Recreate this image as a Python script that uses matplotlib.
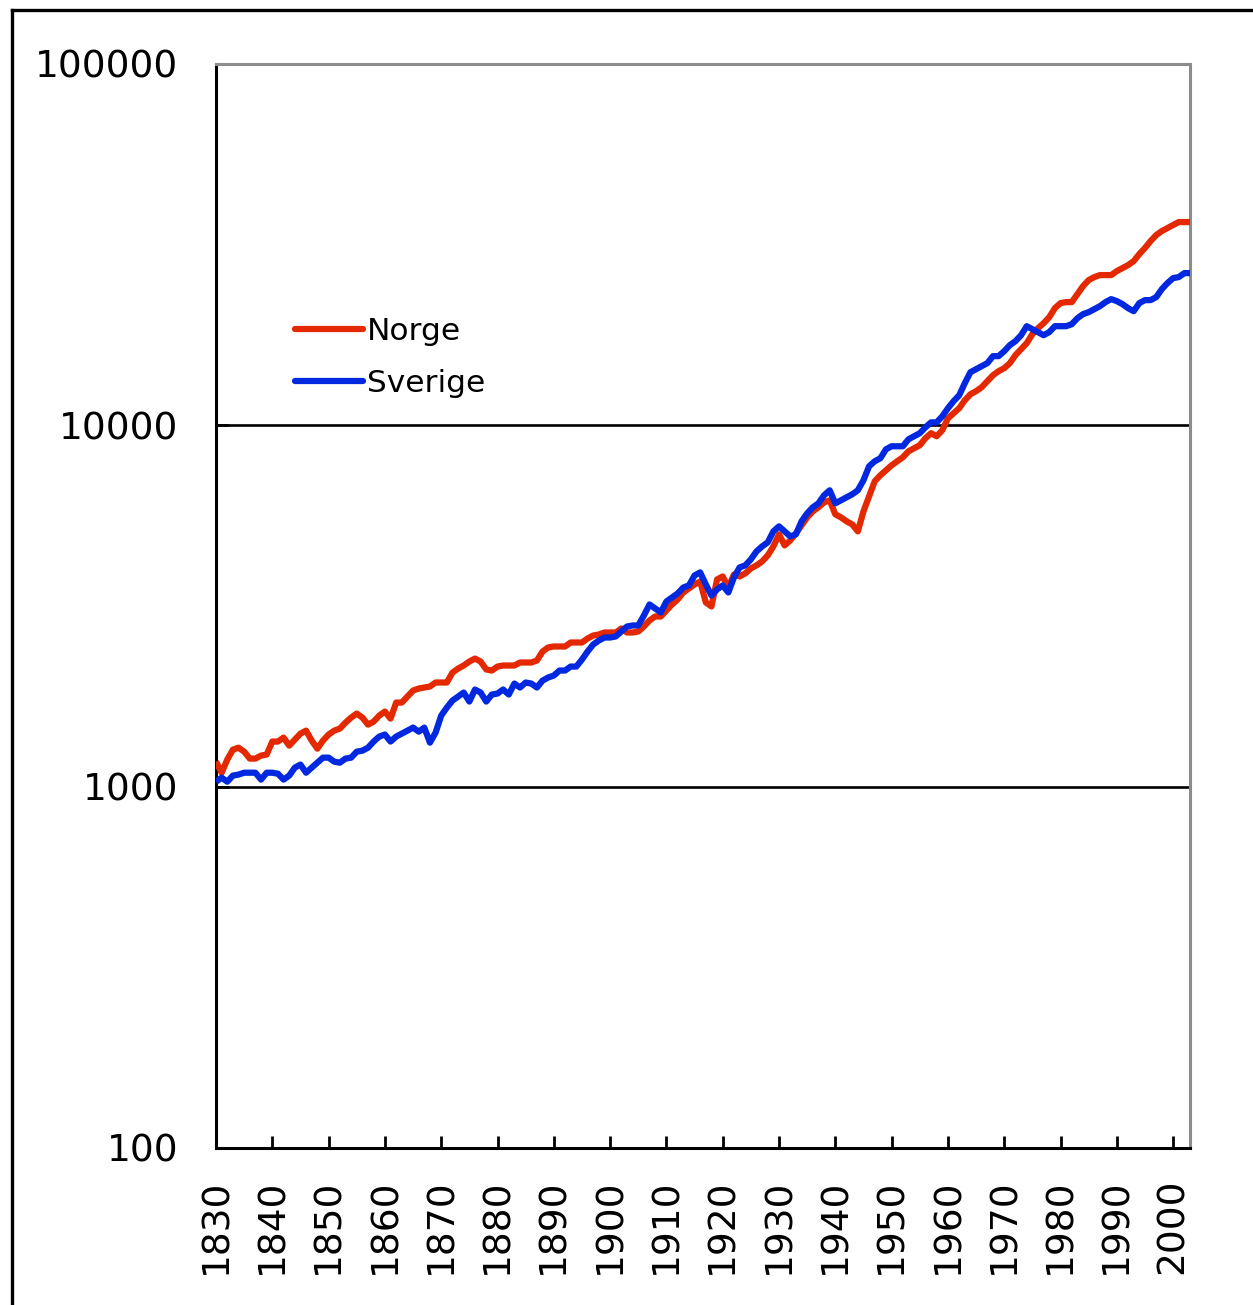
import matplotlib
matplotlib.use("Agg")
import matplotlib.pyplot as plt
from matplotlib.lines import Line2D
import numpy as np

years = list(range(1830, 2004))

norge = [
    1173, 1093, 1188, 1266, 1282, 1250, 1196, 1196, 1219, 1227,   # 1830-1839
    1333, 1333, 1367, 1299, 1350, 1402, 1429, 1341, 1274, 1341,   # 1840-1849
    1394, 1429, 1448, 1504, 1553, 1593, 1553, 1485, 1514, 1573,   # 1850-1859
    1614, 1543, 1709, 1709, 1776, 1845, 1869, 1881, 1893, 1942,   # 1860-1869
    1942, 1942, 2069, 2123, 2164, 2220, 2262, 2220, 2110, 2096,   # 1870-1879
    2150, 2164, 2164, 2164, 2206, 2206, 2206, 2234, 2366, 2428,   # 1880-1889
    2443, 2443, 2443, 2506, 2506, 2506, 2571, 2620, 2637, 2671,   # 1890-1899
    2671, 2671, 2740, 2671, 2671, 2688, 2775, 2884, 2958, 2958,   # 1900-1909
    3074, 3193, 3297, 3447, 3536, 3628, 3698, 3235, 3153, 3745,   # 1910-1919
    3818, 3558, 3867, 3818, 3892, 4018, 4096, 4201, 4366, 4623,   # 1920-1929
    4991, 4653, 4804, 5023, 5286, 5563, 5780, 5930, 6122, 6200,   # 1930-1939
    5671, 5563, 5423, 5320, 5088, 5780, 6361, 7000, 7273, 7509,   # 1940-1949
    7752, 7953, 8158, 8477, 8640, 8807, 9210, 9510, 9328, 9690,   # 1950-1959
    10450, 10800, 11150, 11730, 12190, 12430, 12750, 13250, 13760, 14120,  # 1960-1969
    14390, 14860, 15640, 16250, 16880, 17880, 18570, 19170, 19920, 21100,  # 1970-1979
    21790, 21930, 21930, 23070, 24280, 25230, 25720, 26050, 26050, 26050,  # 1980-1989
    26720, 27240, 27760, 28480, 29790, 30960, 32360, 33620, 34490, 35150,  # 1990-1999
    35830, 36520, 36520, 36520,                                            # 2000-2003
]

sverige = [
    1032, 1059, 1032, 1073, 1080, 1093, 1093, 1093, 1046, 1093,   # 1830-1839
    1093, 1086, 1046, 1073, 1129, 1151, 1093, 1129, 1165, 1203,   # 1840-1849
    1203, 1173, 1165, 1196, 1203, 1250, 1258, 1282, 1333, 1376,   # 1850-1859
    1394, 1333, 1376, 1402, 1429, 1457, 1420, 1457, 1324, 1411,   # 1860-1869
    1573, 1655, 1731, 1776, 1822, 1720, 1857, 1822, 1720, 1799,   # 1870-1879
    1810, 1857, 1799, 1929, 1881, 1942, 1929, 1881, 1966, 2005,   # 1880-1889
    2030, 2096, 2096, 2150, 2150, 2248, 2366, 2475, 2538, 2587,   # 1890-1899
    2587, 2604, 2688, 2775, 2793, 2793, 2977, 3193, 3113, 3035,   # 1900-1909
    3255, 3339, 3426, 3558, 3605, 3842, 3917, 3628, 3382, 3514,   # 1910-1919
    3605, 3447, 3794, 4044, 4096, 4257, 4478, 4623, 4743, 5088,   # 1920-1929
    5253, 5088, 4928, 4991, 5423, 5707, 5930, 6083, 6402, 6610,   # 1930-1939
    6083, 6200, 6320, 6443, 6610, 7045, 7703, 7953, 8106, 8585,   # 1940-1949
    8751, 8751, 8751, 9150, 9328, 9510, 9870, 10190, 10190, 10590,  # 1950-1959
    11150, 11660, 12110, 13080, 14030, 14300, 14580, 14860, 15540, 15540,  # 1960-1969
    16040, 16670, 17100, 17760, 18810, 18450, 18110, 17760, 18110, 18810,  # 1970-1979
    18810, 18810, 19050, 19790, 20310, 20570, 20960, 21370, 21930, 22350,  # 1980-1989
    22070, 21650, 21100, 20700, 21790, 22210, 22210, 22640, 23820, 24760,  # 1990-1999
    25550, 25720, 26380, 26380,                                            # 2000-2003
]

series_names = ["Norge", "Sverige"]
y_ticks = [100, 1000, 10000, 100000]
y_tick_labels = ["100", "1000", "10000", "100000"]
x_ticks = list(range(1830, 2001, 10))
x_tick_labels = [str(y) for y in x_ticks]

RED = "#E42800"
BLUE = "#0028E0"

W, H = 1253, 1305
fig = plt.figure(figsize=(W / 100, H / 100), dpi=100)
ax = fig.add_axes([216 / W, 1 - 1148 / H, (1190 - 216) / W, (1148 - 64) / H])

ax.set_yscale("log")
ax.set_ylim(100, 100000)
ax.set_xlim(1830, 2003)

for yv in [1000, 10000]:
    ax.axhline(yv, color="black", lw=1.9, zorder=1)

ax.plot(years, norge, color=RED, lw=4.5, solid_capstyle="butt", zorder=3)
ax.plot(years, sverige, color=BLUE, lw=4.5, solid_capstyle="butt", zorder=3)

ax.set_yticks(y_ticks)
ax.set_yticklabels(y_tick_labels)
ax.yaxis.set_minor_locator(matplotlib.ticker.NullLocator())
ax.set_xticks(x_ticks)
ax.set_xticklabels(x_tick_labels, rotation=90)

ax.tick_params(axis="y", direction="in", length=9, width=2, pad=27,
               labelsize=27, color="black")
ax.tick_params(axis="x", direction="in", length=9, width=2, pad=22,
               labelsize=27, color="black")

for s in ["left", "bottom"]:
    ax.spines[s].set_color("black")
    ax.spines[s].set_linewidth(2.2)
for s in ["top", "right"]:
    ax.spines[s].set_color("#8c8c8c")
    ax.spines[s].set_linewidth(2.2)

handles = [Line2D([], [], color=RED, lw=4.5, solid_capstyle="round"),
           Line2D([], [], color=BLUE, lw=4.5, solid_capstyle="round")]
leg = ax.legend(handles, series_names, loc="upper left",
                bbox_to_anchor=((286 - 216) / (1190 - 216), 1 - (308 - 64) / (1148 - 64)),
                frameon=False, fontsize=22.5, handlelength=2.15, handletextpad=0.15,
                labelspacing=0.72, borderaxespad=0, borderpad=0.3)

# outer frame lines (left and top)
fig.add_artist(Line2D([12 / W, 12 / W], [0, 1 - 10 / H], color="black", lw=2.4,
                      transform=fig.transFigure))
fig.add_artist(Line2D([12 / W, 1], [1 - 10 / H, 1 - 10 / H], color="black", lw=2.4,
                      transform=fig.transFigure))

fig.savefig("out.png", dpi=100, facecolor="white")
